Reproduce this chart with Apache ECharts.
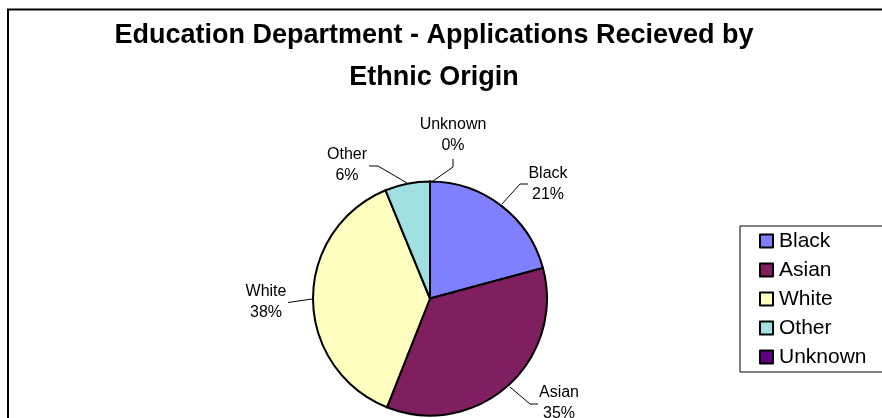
<!DOCTYPE html>
<html>
<head>
<meta charset="utf-8">
<script src="https://cdn.jsdelivr.net/npm/echarts@6/dist/echarts.min.js"></script>
<style>
html,body{margin:0;padding:0;background:#fff;}
#chart{width:882px;height:418px;}
</style>
</head>
<body>
<div id="chart"></div>
<script>
const titleText = 'Education Department - Applications Recieved by\nEthnic Origin';
const categories = ['Black', 'Asian', 'White', 'Other', 'Unknown'];
const values = [20.8, 35.2, 37.8, 6.2, 0];
const colors = ['#8080FF', '#7F1F5F', '#FFFFC0', '#A0E0E0', '#60007F'];

// label anchor positions and leader-line paths (annotation layout)
const labelPos = [
  [548, 184],
  [559, 403],
  [266, 302],
  [347, 165.5],
  [453, 135]
];
const leaderLines = [
  [[502, 204], [520, 184], [528, 184]],
  [[510, 387], [530, 404], [538, 404]],
  [[312, 299], [288, 302.5]],
  [[407, 183], [378, 166], [369, 166]],
  [[431.5, 182], [453, 167], [453, 159]]
];

const chart = echarts.init(document.getElementById('chart'));
const FONT = '"Liberation Sans", Arial, sans-serif';

chart.setOption({
  animation: false,
  backgroundColor: '#fff',
  color: colors,
  title: {
    text: titleText,
    left: 429,
    textAlign: 'center',
    top: 10,
    textStyle: {
      fontFamily: FONT,
      fontWeight: 'bold',
      fontSize: 27,
      lineHeight: 42,
      color: '#000'
    }
  },
  graphic: [{
    type: 'rect',
    shape: { x: 8, y: 9.5, width: 900, height: 430 },
    style: { fill: null, stroke: '#000', lineWidth: 2 },
    silent: true
  }],
  legend: {
    orient: 'vertical',
    left: 740,
    top: 226,
    padding: [3, 60, 3, 19],
    borderColor: '#000',
    borderWidth: 1,
    itemWidth: 13,
    itemHeight: 13,
    itemGap: 5,
    icon: 'rect',
    itemStyle: { borderColor: '#000', borderWidth: 2 },
    textStyle: { fontFamily: FONT, fontSize: 21, lineHeight: 24, color: '#000', padding: [0, 0, 0, 1] },
    data: categories
  },
  series: [{
    type: 'pie',
    center: [430, 298.5],
    radius: 117,
    startAngle: 90,
    clockwise: true,
    minAngle: 0,
    avoidLabelOverlap: false,
    data: categories.map((c, i) => ({ name: c, value: values[i] })),
    itemStyle: { borderColor: '#000', borderWidth: 2 },
    label: {
      show: true,
      position: 'outside',
      fontFamily: FONT,
      fontSize: 16,
      lineHeight: 21,
      color: '#000',
      align: 'center',
      formatter: p => p.name + '\n' + Math.round(p.percent) + '%'
    },
    labelLine: {
      show: true,
      length: 10,
      length2: 10,
      lineStyle: { color: '#000', width: 1 }
    },
    labelLayout: function (params) {
      const i = params.dataIndex;
      return {
        x: labelPos[i][0], y: labelPos[i][1],
        align: 'center', verticalAlign: 'middle',
        hideOverlap: false,
        labelLinePoints: leaderLines[i]
      };
    },
    emphasis: { disabled: true }
  }]
});
</script>
</body>
</html>
